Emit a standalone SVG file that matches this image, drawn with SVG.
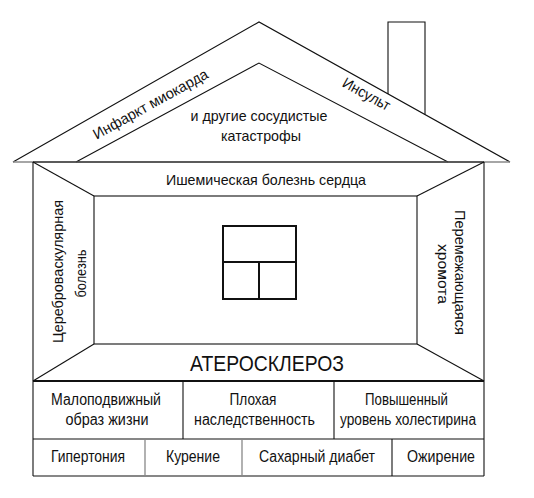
<svg xmlns="http://www.w3.org/2000/svg" width="534" height="498" viewBox="0 0 534 498">
<style>
.ln{fill:none;stroke:#111;stroke-width:1.1}
.thk{fill:none;stroke:#111;stroke-width:2}
.gr{fill:none;stroke:#888;stroke-width:1.3}
text{font-family:"Liberation Sans",Arial,sans-serif;font-size:15px;fill:#111;text-anchor:middle}
.big{font-size:22px}
.f16{font-size:16px}
</style>
<rect width="534" height="498" fill="#fff"/>
<g id="roof">
<polyline class="ln" points="13,162 259,22 510,162"/>
<polyline class="ln" points="76,162 259,63 448,162"/>
<line class="gr" x1="13" y1="162" x2="510" y2="162"/>
<polyline class="ln" points="388,94 388,22 425,22 425,114.5"/>
<text transform="translate(153,108.5) rotate(-29)" textLength="129" lengthAdjust="spacingAndGlyphs">Инфаркт миокарда</text>
<text transform="translate(364,98.6) rotate(29)" textLength="52" lengthAdjust="spacingAndGlyphs">Инсульт</text>
<text x="259" y="120.5" textLength="137" lengthAdjust="spacingAndGlyphs">и другие сосудистые</text>
<text x="261" y="140.5" textLength="80" lengthAdjust="spacingAndGlyphs">катастрофы</text>
</g>
<g id="room">
<line class="ln" x1="33" y1="162" x2="484" y2="162"/>
<line class="ln" x1="33" y1="162" x2="33" y2="476"/>
<line class="ln" x1="484" y1="162" x2="484" y2="476"/>
<rect class="ln" x="94" y="196" width="323" height="148"/>
<line class="ln" x1="33" y1="162" x2="94" y2="196"/>
<line class="ln" x1="484" y1="162" x2="417" y2="196"/>
<line class="ln" x1="33" y1="381" x2="94" y2="344"/>
<line class="ln" x1="484" y1="381" x2="417" y2="344"/>
<line class="thk" x1="33" y1="381" x2="484" y2="381"/>
<text x="266" y="185" textLength="200" lengthAdjust="spacingAndGlyphs">Ишемическая болезнь сердца</text>
<text transform="translate(63,271.5) rotate(-90)" textLength="143" lengthAdjust="spacingAndGlyphs">Цереброваскулярная</text>
<text transform="translate(85.5,273.5) rotate(-90)" textLength="48" lengthAdjust="spacingAndGlyphs">болезнь</text>
<text transform="translate(455,272.5) rotate(90)" textLength="125" lengthAdjust="spacingAndGlyphs">Перемежающаяся</text>
<text transform="translate(438,274) rotate(90)" textLength="60" lengthAdjust="spacingAndGlyphs">хромота</text>
<text class="big" x="267" y="371" textLength="154" lengthAdjust="spacingAndGlyphs">АТЕРОСКЛЕРОЗ</text>
</g>
<g id="window">
<rect class="thk" x="223" y="226" width="73" height="73"/>
<line class="thk" x1="223" y1="262" x2="296" y2="262"/>
<line class="thk" x1="259" y1="262" x2="259" y2="299"/>
</g>
<g id="factors-row1">
<line class="ln" x1="33" y1="439" x2="484" y2="439"/>
<line class="ln" x1="183" y1="381" x2="183" y2="439"/>
<line class="ln" x1="334" y1="381" x2="334" y2="439"/>
<text class="f16" x="106" y="405" textLength="110" lengthAdjust="spacingAndGlyphs">Малоподвижный</text>
<text class="f16" x="107" y="425" textLength="83" lengthAdjust="spacingAndGlyphs">образ жизни</text>
<text class="f16" x="253" y="405" textLength="47" lengthAdjust="spacingAndGlyphs">Плохая</text>
<text class="f16" x="254.5" y="425" textLength="121" lengthAdjust="spacingAndGlyphs">наследственность</text>
<text class="f16" x="406.5" y="405" textLength="83" lengthAdjust="spacingAndGlyphs">Повышенный</text>
<text class="f16" x="408" y="425" textLength="136" lengthAdjust="spacingAndGlyphs">уровень холестирина</text>
</g>
<g id="factors-row2">
<line class="ln" x1="33" y1="476" x2="484" y2="476"/>
<line class="gr" x1="145" y1="439" x2="145" y2="476"/>
<line class="gr" x1="242" y1="439" x2="242" y2="476"/>
<line class="ln" x1="392" y1="439" x2="392" y2="476"/>
<text class="f16" x="88" y="462" textLength="74" lengthAdjust="spacingAndGlyphs">Гипертония</text>
<text class="f16" x="193" y="462" textLength="54" lengthAdjust="spacingAndGlyphs">Курение</text>
<text class="f16" x="317" y="462" textLength="116" lengthAdjust="spacingAndGlyphs">Сахарный диабет</text>
<text class="f16" x="441" y="462" textLength="68" lengthAdjust="spacingAndGlyphs">Ожирение</text>
</g>
</svg>
